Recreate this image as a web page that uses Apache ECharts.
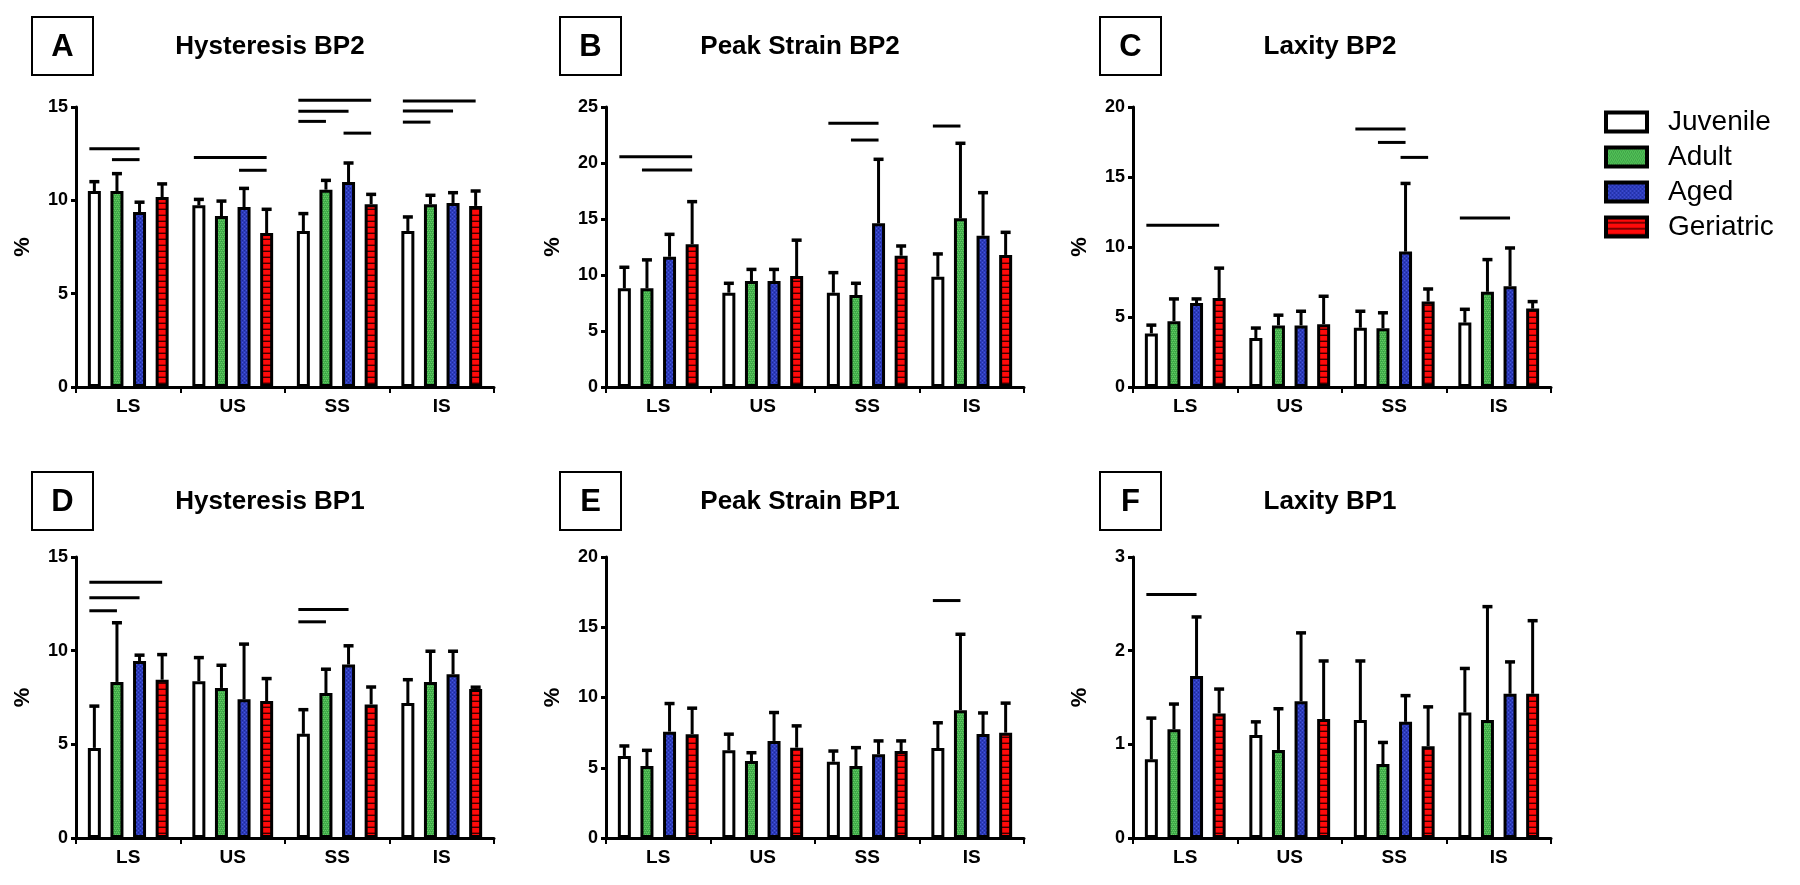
<!DOCTYPE html>
<html>
<head>
<meta charset="utf-8">
<script src="https://cdn.jsdelivr.net/npm/echarts@6.0.0/dist/echarts.min.js"></script>
<style>
  html, body { margin: 0; padding: 0; background: #fff; }
  #chart { width: 1800px; height: 885px; }
</style>
</head>
<body>
<div id="chart"></div>
<script>
// ---------------- DATA ----------------
const categories = ['LS', 'US', 'SS', 'IS'];
const groupNames = ['Juvenile', 'Adult', 'Aged', 'Geriatric'];
const panelLetters = ['A', 'B', 'C', 'D', 'E', 'F'];
const panelTitles = ['Hysteresis BP2', 'Peak Strain BP2', 'Laxity BP2', 'Hysteresis BP1', 'Peak Strain BP1', 'Laxity BP1'];
const yMax = [15, 25, 20, 15, 20, 3];
const yStep = [5, 5, 5, 5, 5, 1];

// rows: Juvenile, Adult, Aged, Geriatric ; columns: LS, US, SS, IS
const A_mean = [[10.5, 9.73, 8.36, 8.36], [10.5, 9.16, 10.57, 9.79], [9.37, 9.64, 10.98, 9.86], [10.18, 8.25, 9.79, 9.7]];
const A_sd   = [[0.5, 0.32, 0.93, 0.75], [0.93, 0.8, 0.5, 0.48], [0.53, 1.0, 1.02, 0.55], [0.7, 1.27, 0.53, 0.8]];
const B_mean = [[8.81, 8.42, 8.42, 9.85], [8.81, 9.46, 8.21, 15.06], [11.63, 9.46, 14.61, 13.51], [12.74, 9.91, 11.72, 11.79]];
const B_sd   = [[1.88, 0.84, 1.79, 2.03], [2.54, 1.04, 1.05, 6.7], [2.0, 1.04, 5.72, 3.84], [3.81, 3.2, 0.87, 2.02]];
const C_mean = [[3.83, 3.5, 4.23, 4.6], [4.7, 4.4, 4.2, 6.8], [6.0, 4.4, 9.67, 7.2], [6.36, 4.49, 6.1, 5.6]];
const C_sd   = [[0.59, 0.71, 1.18, 0.95], [1.59, 0.73, 1.1, 2.3], [0.29, 1.01, 4.87, 2.73], [2.13, 1.99, 0.9, 0.5]];
const D_mean = [[4.81, 8.37, 5.56, 7.2], [8.33, 8.01, 7.74, 8.33], [9.45, 7.4, 9.26, 8.74], [8.45, 7.31, 7.13, 7.95]];
const D_sd   = [[2.23, 1.26, 1.29, 1.25], [3.16, 1.21, 1.27, 1.64], [0.31, 2.95, 1.0, 1.23], [1.34, 1.2, 0.93, 0.1]];
const E_mean = [[5.84, 6.24, 5.43, 6.4], [5.12, 5.48, 5.12, 9.1], [7.57, 6.91, 5.96, 7.4], [7.39, 6.43, 6.19, 7.5]];
const E_sd   = [[0.71, 1.15, 0.76, 1.8], [1.12, 0.59, 1.31, 5.4], [2.0, 2.02, 0.95, 1.5], [1.85, 1.55, 0.72, 2.1]];
const F_mean = [[0.84, 1.1, 1.26, 1.34], [1.16, 0.94, 0.79, 1.26], [1.73, 1.46, 1.24, 1.54], [1.33, 1.27, 0.98, 1.54]];
const F_sd   = [[0.44, 0.14, 0.63, 0.47], [0.27, 0.44, 0.23, 1.21], [0.63, 0.73, 0.28, 0.34], [0.26, 0.62, 0.42, 0.78]];

// significance bars: [category index, from group, to group, height]
const A_sig = [[0, 0, 2, 12.77], [0, 1, 2, 12.18], [1, 0, 3, 12.29], [1, 2, 3, 11.61],
               [2, 0, 3, 15.36], [2, 0, 2, 14.77], [2, 0, 1, 14.23], [2, 2, 3, 13.6],
               [3, 0, 3, 15.32], [3, 0, 2, 14.78], [3, 0, 1, 14.19]];
const B_sig = [[0, 0, 3, 20.56], [0, 1, 3, 19.38], [2, 0, 2, 23.54], [2, 1, 2, 22.05], [3, 0, 1, 23.3]];
const C_sig = [[0, 0, 3, 11.56], [2, 0, 2, 18.42], [2, 1, 2, 17.47], [2, 2, 3, 16.4], [3, 0, 2, 12.08]];
const D_sig = [[0, 0, 3, 13.65], [0, 0, 2, 12.83], [0, 0, 1, 12.13], [2, 0, 2, 12.2], [2, 0, 1, 11.54]];
const E_sig = [[3, 0, 1, 16.9]];
const F_sig = [[0, 0, 2, 2.6]];

const panelMeans = [A_mean, B_mean, C_mean, D_mean, E_mean, F_mean];
const panelSds = [A_sd, B_sd, C_sd, D_sd, E_sd, F_sd];
const panelSigs = [A_sig, B_sig, C_sig, D_sig, E_sig, F_sig];

// ---------------- LAYOUT / STYLE ----------------
const FONT = '"Liberation Sans", Arial, Helvetica, sans-serif';
const GRID_LEFT = [76, 606, 1133];
const ROW_TOP = [107, 557];
const GRID_W = 418;
const GRID_H = [280, 281];
const BOX_LEFT = [32, 560, 1100];
const BOX_TOP = [17, 472];
const TITLE_X = [270, 800, 1330];
const TITLE_Y = [47, 502];
const BAR_W = 13;
const BAR_GAP = 0.738;
const PITCH = BAR_W * (1 + BAR_GAP);

function makePattern(w, h, bg, draw) {
  const c = document.createElement('canvas');
  c.width = w; c.height = h;
  const ctx = c.getContext('2d');
  ctx.fillStyle = bg; ctx.fillRect(0, 0, w, h);
  draw(ctx);
  return { image: c, repeat: 'repeat' };
}
const greenPat = makePattern(4, 4, '#42b14c', ctx => {
  ctx.fillStyle = '#66c863';
  ctx.fillRect(0, 0, 1, 1); ctx.fillRect(2, 0, 1, 1); ctx.fillRect(1, 2, 1, 1); ctx.fillRect(3, 2, 1, 1);
  ctx.fillStyle = '#379b42';
  ctx.fillRect(1, 1, 1, 1); ctx.fillRect(3, 3, 1, 1);
});
const bluePat = makePattern(4, 4, '#2c3bbd', ctx => {
  ctx.fillStyle = '#4a5ad8';
  ctx.fillRect(0, 0, 1, 1); ctx.fillRect(2, 2, 1, 1);
  ctx.fillStyle = '#1f2b95';
  ctx.fillRect(2, 0, 1, 1); ctx.fillRect(0, 2, 1, 1);
});
const redPat = makePattern(2, 6, '#ff0a0a', ctx => {
  ctx.fillStyle = '#b80000'; ctx.fillRect(0, 4, 2, 1);
  ctx.fillStyle = '#3a0000'; ctx.fillRect(0, 5, 2, 1);
});
const fills = ['#ffffff', greenPat, bluePat, redPat];

// ---------------- BUILD ----------------
const grids = [], xAxes = [], yAxes = [], series = [], graphics = [];
for (let p = 0; p < 6; p++) {
  const row = Math.floor(p / 3), col = p % 3;
  grids.push({ left: GRID_LEFT[col], top: ROW_TOP[row], width: GRID_W, height: GRID_H[row], outerBoundsMode: 'none' });
  xAxes.push({
    type: 'category', gridIndex: p, data: categories,
    axisLine: { lineStyle: { color: '#000', width: 3 } },
    axisTick: { show: true, length: 6, lineStyle: { color: '#000', width: 2 } },
    axisLabel: { color: '#000', fontSize: 19, fontWeight: 'bold', fontFamily: FONT, margin: 10 },
    splitLine: { show: false }
  });
  yAxes.push({
    type: 'value', gridIndex: p, min: 0, max: yMax[p], interval: yStep[p],
    name: '%', nameLocation: 'middle', nameGap: 42,
    nameTextStyle: { color: '#000', fontSize: 22, fontWeight: 'bold', fontFamily: FONT },
    axisLine: { show: true, lineStyle: { color: '#000', width: 3 } },
    axisTick: { show: true, length: 5, lineStyle: { color: '#000', width: 3 } },
    axisLabel: { color: '#000', fontSize: 18, fontWeight: 'bold', fontFamily: FONT, margin: 8 },
    splitLine: { show: false }
  });
  for (let g = 0; g < 4; g++) {
    series.push({
      type: 'bar', name: groupNames[g], xAxisIndex: p, yAxisIndex: p,
      data: panelMeans[p][g], barWidth: BAR_W, barGap: (BAR_GAP * 100) + '%',
      itemStyle: { color: fills[g], borderColor: '#000', borderWidth: 3 },
      emphasis: { disabled: true }, z: 2
    });
  }
  const errData = [];
  for (let g = 0; g < 4; g++) for (let c = 0; c < 4; c++) errData.push([c, g, panelMeans[p][g][c], panelSds[p][g][c]]);
  series.push({
    type: 'custom', xAxisIndex: p, yAxisIndex: p, data: errData, clip: false, z: 3,
    encode: { x: 0, y: 2 }, silent: true,
    renderItem: function (params, api) {
      const cat = api.value(0), g = api.value(1), m = api.value(2), sd = api.value(3);
      const base = api.coord([cat, m]);
      const top = api.coord([cat, m + sd]);
      const x = base[0] + (g - 1.5) * PITCH;
      return { type: 'group', children: [
        { type: 'line', shape: { x1: x, y1: base[1], x2: x, y2: top[1] }, style: { stroke: '#000', lineWidth: 3 } },
        { type: 'line', shape: { x1: x - 5, y1: top[1], x2: x + 5, y2: top[1] }, style: { stroke: '#000', lineWidth: 3.5 } }
      ] };
    }
  });
  series.push({
    type: 'custom', xAxisIndex: p, yAxisIndex: p, data: panelSigs[p], clip: false, z: 3,
    encode: { x: 0, y: 3 }, silent: true,
    renderItem: function (params, api) {
      const cat = api.value(0), g1 = api.value(1), g2 = api.value(2), h = api.value(3);
      const pt = api.coord([cat, h]);
      return { type: 'line',
        shape: { x1: pt[0] + (g1 - 1.5) * PITCH - 5, y1: pt[1], x2: pt[0] + (g2 - 1.5) * PITCH, y2: pt[1] },
        style: { stroke: '#000', lineWidth: 3 } };
    }
  });
  graphics.push({
    type: 'rect', shape: { x: BOX_LEFT[col], y: BOX_TOP[row], width: 61, height: 58 },
    style: { fill: '#fff', stroke: '#000', lineWidth: 2 }
  });
  graphics.push({
    type: 'text', x: BOX_LEFT[col] + 30.5, y: BOX_TOP[row] + 30,
    style: { text: panelLetters[p], font: 'bold 31px ' + FONT, fill: '#000', textAlign: 'center', textVerticalAlign: 'middle' }
  });
  graphics.push({
    type: 'text', x: TITLE_X[col], y: TITLE_Y[row],
    style: { text: panelTitles[p], font: 'bold 26px ' + FONT, fill: '#000', textAlign: 'center', textVerticalAlign: 'middle' }
  });
}

const chart = echarts.init(document.getElementById('chart'), null, { renderer: 'canvas' });
chart.setOption({
  animation: false,
  backgroundColor: '#fff',
  textStyle: { fontFamily: FONT },
  grid: grids, xAxis: xAxes, yAxis: yAxes,
  legend: {
    data: groupNames, orient: 'vertical', left: 1604, top: 108, padding: 0,
    icon: 'rect', itemWidth: 41, itemHeight: 19, itemGap: 7, selectedMode: false,
    itemStyle: { borderColor: '#000', borderWidth: 4 },
    textStyle: { color: '#000', fontSize: 28, fontFamily: FONT, padding: [0, 0, 0, 16] }
  },
  graphic: graphics,
  series: series
});
</script>
</body>
</html>
